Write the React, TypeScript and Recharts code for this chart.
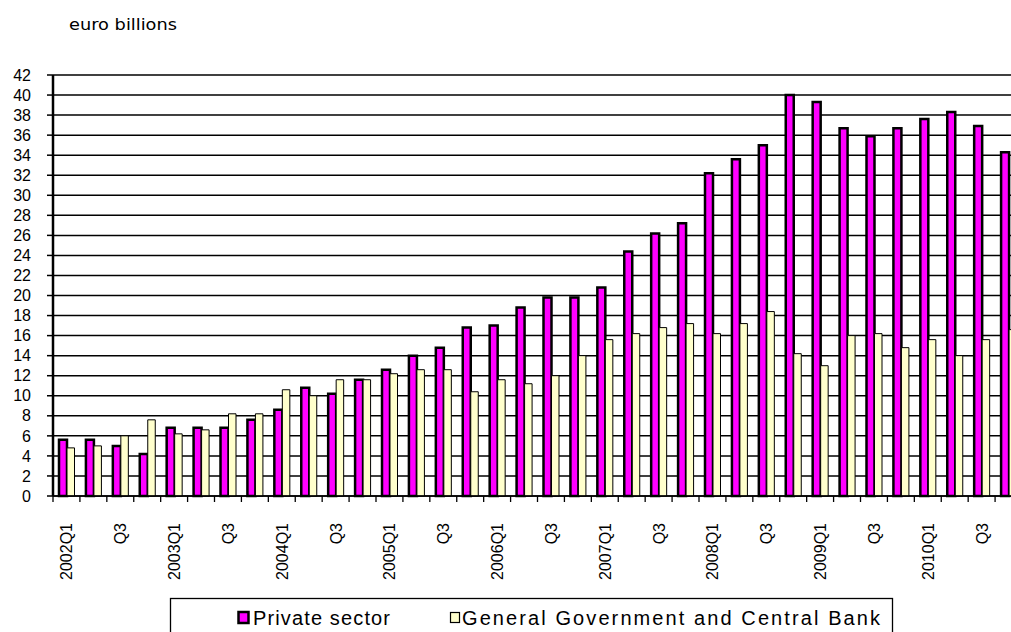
import React from 'react';
import { BarChart, Bar, XAxis, YAxis, CartesianGrid } from 'recharts';

// quarters 2002Q1 .. 2010Q4 (the last one is clipped at the right edge, as in the source)
const quarters = [
  '2002Q1', '2002Q2', '2002Q3', '2002Q4',
  '2003Q1', '2003Q2', '2003Q3', '2003Q4',
  '2004Q1', '2004Q2', '2004Q3', '2004Q4',
  '2005Q1', '2005Q2', '2005Q3', '2005Q4',
  '2006Q1', '2006Q2', '2006Q3', '2006Q4',
  '2007Q1', '2007Q2', '2007Q3', '2007Q4',
  '2008Q1', '2008Q2', '2008Q3', '2008Q4',
  '2009Q1', '2009Q2', '2009Q3', '2009Q4',
  '2010Q1', '2010Q2', '2010Q3', '2010Q4',
];

const tickLabels = [
  '2002Q1', '', 'Q3', '',
  '2003Q1', '', 'Q3', '',
  '2004Q1', '', 'Q3', '',
  '2005Q1', '', 'Q3', '',
  '2006Q1', '', 'Q3', '',
  '2007Q1', '', 'Q3', '',
  '2008Q1', '', 'Q3', '',
  '2009Q1', '', 'Q3', '',
  '2010Q1', '', 'Q3', '',
];

const privateSector = [
  5.6, 5.6, 5.0, 4.2,
  6.8, 6.8, 6.8, 7.6,
  8.6, 10.8, 10.2, 11.6,
  12.6, 14.0, 14.8, 16.8,
  17.0, 18.8, 19.8, 19.8,
  20.8, 24.4, 26.2, 27.2,
  32.2, 33.6, 35.0, 40.0,
  39.3, 36.7, 35.9, 36.7,
  37.6, 38.3, 36.9, 34.3,
];

const govAndCentralBank = [
  4.8, 5.0, 6.0, 7.6,
  6.2, 6.6, 8.2, 8.2,
  10.6, 10.0, 11.6, 11.6,
  12.2, 12.6, 12.6, 10.4,
  11.6, 11.2, 12.0, 14.0,
  15.6, 16.2, 16.8, 17.2,
  16.2, 17.2, 18.4, 14.2,
  13.0, 16.0, 16.2, 14.8,
  15.6, 14.0, 15.6, 16.6,
];

const yTicks = [0, 2, 4, 6, 8, 10, 12, 14, 16, 18, 20, 22, 24, 26, 28, 30, 32, 34, 36, 38, 40, 42];

const data = quarters.map((q, i) => ({
  quarter: q,
  privateSector: privateSector[i],
  gov: govAndCentralBank[i],
}));

const FONT = '"Liberation Sans", Arial, sans-serif';
const WIDE_FONT = '"DejaVu Sans", Verdana, sans-serif';
const CHART_W = 1022;
const AXIS_W = 53;
const BAND = (CHART_W - AXIS_W) / quarters.length;

const QuarterTick = (props: any) => {
  const { x, y, payload } = props;
  const label = tickLabels[payload.index];
  const left = x - BAND / 2;
  return (
    <g>
      <line x1={left} x2={left} y1={y} y2={y + 6} stroke="#000" strokeWidth={1.3} />
      {label ? (
        <text
          transform={`translate(${x + 6},${y + 27}) rotate(-90)`}
          textAnchor="end"
          fontSize={16}
          fontFamily={FONT}
          fill="#000"
        >
          {label}
        </text>
      ) : null}
    </g>
  );
};

export default function App() {
  return (
    <div
      style={{
        position: 'absolute',
        left: 0,
        top: 0,
        width: 1011,
        height: 632,
        overflow: 'hidden',
        background: '#fff',
      }}
    >
      <svg width={1011} height={50} style={{ position: 'absolute', left: 0, top: 0 }}>
        <text x={69} y={30} fontSize={15} fontFamily={WIDE_FONT} fill="#000" textLength={108} lengthAdjust="spacingAndGlyphs">
          euro billions
        </text>
      </svg>

      <BarChart
        width={CHART_W}
        height={632}
        data={data}
        margin={{ top: 75, right: 0, bottom: 0, left: 0 }}
        barGap={0}
      >
        <CartesianGrid vertical={false} stroke="#000" strokeWidth={1.5} />
        <XAxis
          dataKey="quarter"
          interval={0}
          height={136}
          tickLine={false}
          tickSize={0}
          tickMargin={0}
          axisLine={{ stroke: '#000', strokeWidth: 1.3 }}
          tick={<QuarterTick />}
        />
        <YAxis
          width={AXIS_W}
          domain={[0, 42]}
          ticks={yTicks}
          interval={0}
          tickSize={6}
          tickMargin={16}
          axisLine={{ stroke: '#000', strokeWidth: 2.5 }}
          tickLine={{ stroke: '#000', strokeWidth: 1.5 }}
          tick={{ fontSize: 16, fill: '#000', fontFamily: FONT }}
        />
        <Bar
          dataKey="privateSector"
          name="Private sector"
          fill="#FF00FF"
          stroke="#000"
          strokeWidth={2.5}
          barSize={8}
          isAnimationActive={false}
        />
        <Bar
          dataKey="gov"
          name="General Government and Central Bank"
          fill="#FFFFCC"
          stroke="#000"
          strokeWidth={1}
          barSize={7.5}
          isAnimationActive={false}
        />
      </BarChart>

      <svg width={1011} height={40} style={{ position: 'absolute', left: 0, top: 592 }}>
        <rect x={170.5} y={6.5} width={722} height={60} fill="#fff" stroke="#000" strokeWidth={1.3} />
        <rect x={238.5} y={20} width={10} height={11} fill="#FF00FF" stroke="#000" strokeWidth={2.5} />
        <text x={253} y={33} fontSize={20} fontFamily={FONT} fill="#000" textLength={137} lengthAdjust="spacing">
          Private sector
        </text>
        <rect x={450.5} y={20.5} width={9} height={10} fill="#FFFFCC" stroke="#000" strokeWidth={1.2} />
        <text x={462} y={33} fontSize={20} fontFamily={FONT} fill="#000" textLength={418} lengthAdjust="spacing">
          General Government and Central Bank
        </text>
      </svg>
    </div>
  );
}
